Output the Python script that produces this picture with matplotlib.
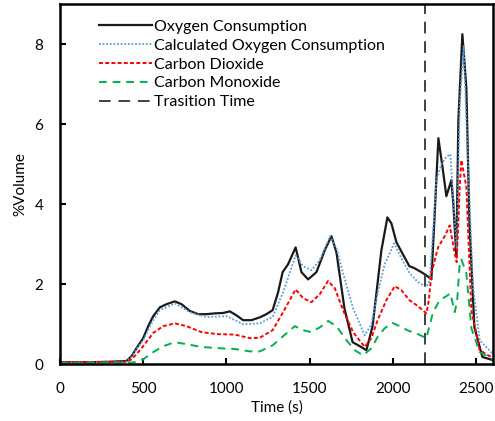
import matplotlib
matplotlib.use("Agg")
import matplotlib.pyplot as plt

plt.rcParams['font.family'] = ['Lato', 'DejaVu Sans']

# Oxygen consumption (measured)
t_o2 = [0, 100, 200, 300, 400, 430, 460, 500, 530, 560, 600, 640, 690, 730, 780,
        830, 880, 930, 980, 1020, 1060, 1100, 1150, 1200, 1240, 1277, 1310, 1337,
        1370, 1415, 1450, 1490, 1540, 1590, 1630, 1660, 1708, 1757, 1800, 1840,
        1877, 1930, 1966, 1990, 2020, 2056, 2098, 2128, 2170, 2200, 2230, 2248,
        2272, 2296, 2320, 2350, 2362, 2380, 2392, 2416, 2440, 2458, 2488, 2536, 2600]
o2 = [0.05, 0.05, 0.05, 0.06, 0.08, 0.2, 0.4, 0.65, 0.95, 1.2, 1.42, 1.5, 1.57, 1.5, 1.33,
      1.25, 1.25, 1.27, 1.28, 1.32, 1.22, 1.1, 1.1, 1.17, 1.25, 1.35, 1.8, 2.3,
      2.5, 2.92, 2.3, 2.12, 2.3, 2.85, 3.2, 2.8, 1.4, 0.55, 0.45, 0.35,
      0.95, 2.85, 3.67, 3.52, 3.05, 2.77, 2.45, 2.4, 2.3, 2.22, 2.12, 3.6,
      5.65, 4.95, 4.2, 4.6, 4.0, 2.7, 6.1, 8.25, 6.9, 3.6, 0.93, 0.18, 0.1]

# Calculated oxygen consumption
t_calc = [0, 300, 400, 430, 460, 500, 560, 600, 690, 780, 880, 1000, 1100, 1200, 1277,
          1340, 1415, 1460, 1510, 1560, 1622, 1660, 1700, 1760, 1830, 1870, 1907, 1950,
          2006, 2056, 2100, 2150, 2200, 2220, 2245, 2260, 2290, 2320, 2344, 2370, 2382,
          2400, 2424, 2450, 2480, 2520, 2600]
calc = [0.05, 0.05, 0.07, 0.18, 0.38, 0.6, 1.1, 1.35, 1.52, 1.3, 1.18, 1.2, 1.0, 1.02, 1.18,
        1.8, 2.72, 2.45, 2.35, 2.6, 3.2, 2.9, 2.27, 1.4, 0.72, 1.0, 1.77, 2.5,
        3.02, 2.6, 2.27, 2.05, 1.93, 2.1, 3.6, 4.6, 5.0, 5.18, 5.25, 3.6, 2.9,
        6.5, 7.95, 5.0, 1.93, 0.6, 0.25]

# Carbon dioxide
t_co2 = [0, 400, 430, 460, 500, 560, 620, 690, 760, 850, 950, 1050, 1140, 1200, 1277,
         1340, 1415, 1460, 1510, 1560, 1610, 1650, 1700, 1760, 1830, 1870, 1907, 1960,
         2010, 2050, 2098, 2150, 2200, 2215, 2230, 2270, 2310, 2340, 2370, 2382, 2400,
         2410, 2440, 2470, 2520, 2600]
co2 = [0.05, 0.06, 0.12, 0.25, 0.45, 0.78, 0.95, 1.02, 0.95, 0.8, 0.75, 0.74, 0.65, 0.66, 0.85,
       1.3, 1.87, 1.65, 1.55, 1.75, 2.08, 1.9, 1.35, 0.8, 0.43, 0.65, 1.1, 1.6,
       1.95, 1.85, 1.6, 1.45, 1.27, 1.6, 2.27, 2.92, 3.2, 3.47, 2.77, 2.55, 4.43,
       5.1, 4.43, 1.35, 0.35, 0.15]

# Carbon monoxide
t_co = [0, 430, 460, 500, 560, 620, 690, 760, 850, 950, 1050, 1140, 1200, 1277, 1340,
        1410, 1460, 1510, 1560, 1610, 1660, 1720, 1770, 1820, 1870, 1907, 1950, 1996,
        2040, 2085, 2150, 2200, 2215, 2240, 2280, 2320, 2344, 2370, 2385, 2400, 2410,
        2440, 2470, 2520, 2600]
co = [0.03, 0.04, 0.06, 0.12, 0.3, 0.45, 0.55, 0.5, 0.43, 0.4, 0.38, 0.32, 0.32, 0.47, 0.7,
      0.95, 0.85, 0.8, 0.92, 1.08, 0.95, 0.6, 0.35, 0.22, 0.4, 0.68, 0.9, 1.03,
      0.95, 0.85, 0.75, 0.65, 0.9, 1.3, 1.6, 1.7, 1.77, 1.3, 1.6, 2.52, 2.62,
      2.27, 0.9, 0.3, 0.12]

transition_time = 2190

fig = plt.figure(figsize=(4.95, 4.21), dpi=100)
ax = fig.add_axes([0.121, 0.135, 0.875, 0.855])

ax.plot(t_o2, o2, color='#1a1a1a', lw=1.6, label='Oxygen Consumption')
ax.plot(t_calc, calc, color='#5b9bd5', lw=1.3, linestyle=(0, (1, 1)),
        label='Calculated Oxygen Consumption')
ax.plot(t_co2, co2, color='#ff0000', lw=1.4, linestyle=(0, (2, 1.2)),
        label='Carbon Dioxide')
ax.plot(t_co, co, color='#00b050', lw=1.4, linestyle=(0, (4, 3)),
        label='Carbon Monoxide')
ax.axvline(transition_time, color='#404040', lw=1.4, linestyle=(0, (6, 4)),
           label='Trasition Time')

ax.set_xlim(0, 2600)
ax.set_ylim(0, 9)
ax.set_xticks([0, 500, 1000, 1500, 2000, 2500])
ax.set_yticks([0, 2, 4, 6, 8])
ax.tick_params(direction='in', length=4, width=1.5, labelsize=11)
ax.tick_params(axis='x', pad=13)
ax.tick_params(axis='y', pad=12)
for s in ax.spines.values():
    s.set_linewidth(1.8)

ax.set_xlabel('Time (s)', fontsize=11, labelpad=3)
ax.set_ylabel('%Volume', fontsize=11, labelpad=5)

ax.legend(loc='upper left', bbox_to_anchor=(0.055, 1.0), frameon=False,
          fontsize=11.5, handlelength=3.3, handletextpad=0.15,
          labelspacing=0.3, borderaxespad=0.55)

fig.savefig('out.png', dpi=100)
